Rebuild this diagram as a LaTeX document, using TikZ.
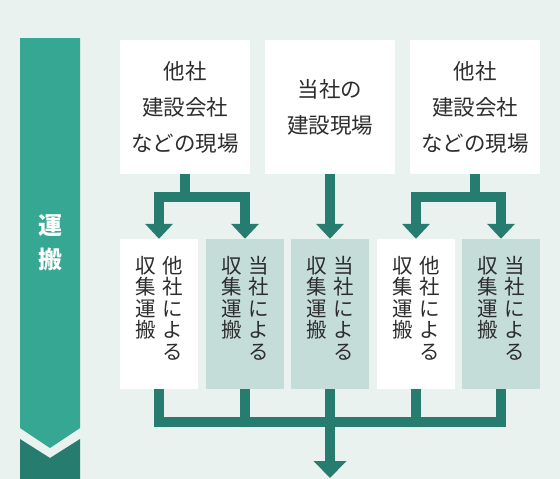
\documentclass[tikz,border=0pt]{standalone}
\usepackage{fontspec}
\newfontfamily\jpfont{Noto Sans CJK JP}
\usetikzlibrary{arrows.meta, positioning}
\definecolor{bgpale}{RGB}{234, 242, 240}
\definecolor{bandteal}{RGB}{54, 167, 146}
\definecolor{banddark}{RGB}{38, 124, 110}
\definecolor{flowline}{RGB}{38, 124, 110}
\definecolor{boxshade}{RGB}{197, 221, 217}
\definecolor{inktext}{RGB}{45, 45, 45}

\begin{document}
\begin{tikzpicture}[x=1pt, y=-1pt,
  site/.style={fill=white, minimum width=130pt, minimum height=134pt, inner sep=0pt,
               font=\jpfont\fontsize{21.5}{36}\selectfont, text=inktext, align=center},
  carrier/.style={minimum width=78pt, minimum height=150pt, inner sep=0pt},
  vcol/.style={anchor=north, inner sep=0pt, align=center,
               font=\jpfont\fontsize{20.5}{21.5}\selectfont, text=inktext},
  flow/.style={draw=flowline, line width=10pt},
  head/.style={-{Triangle[width=27pt, length=15pt]}},
]
  \useasboundingbox (0,0) rectangle (560,479);
  \fill[bgpale] (0,0) rectangle (560,479);

  % ── side band ──
  \fill[bandteal] (20,38) -- (80,38) -- (80,428) -- (50,448) -- (20,428) -- cycle;
  \fill[banddark] (20,439) -- (50,458) -- (80,439) -- (80,479) -- (20,479) -- cycle;
  \node[font=\jpfont\bfseries\fontsize{24}{34}\selectfont, text=white, align=center]
    (band) at (50,243) {運\\搬};

  % ── sites ──
  \node[site] (t1) at (185,107) {他社\\建設会社\\などの現場};
  \node[site] (t2) at (330,107) {当社の\\建設現場};
  \node[site] (t3) at (475,107) {他社\\建設会社\\などの現場};

  % ── carriers ──
  \node[carrier, fill=white]    (l1) at (159,314) {};
  \node[carrier, fill=boxshade] (l2) at (245,314) {};
  \node[carrier, fill=boxshade] (l3) at (330,314) {};
  \node[carrier, fill=white]    (l4) at (416,314) {};
  \node[carrier, fill=boxshade] (l5) at (501,314) {};
  \foreach \n/\who in {l1/他, l2/当, l3/当, l4/他, l5/当} {
    \node[vcol] (\n r) at ([xshift=14pt, yshift=-17pt]\n.north) {\who\\社\\に\\よ\\る};
    \node[vcol] (\n l) at ([xshift=-13pt, yshift=-17pt]\n.north) {収\\集\\運\\搬};
  }

  % ── flows in ──
  \draw[flow] (t1.south) -- ++(0,23) coordinate (fork1);
  \draw[flow, head] (fork1) -| (l1.north);
  \draw[flow, head] (fork1) -| (l2.north);
  \draw[flow, head] (t2.south) -- (l3.north);
  \draw[flow] (t3.south) -- ++(0,23) coordinate (fork3);
  \draw[flow, head] (fork3) -| (l4.north);
  \draw[flow, head] (fork3) -| (l5.north);

  % ── flows out ──
  \coordinate (merge) at (330,422);
  \coordinate (outlet) at (330,478);
  \foreach \n in {l1, l2, l4, l5}
    \draw[flow] (\n.south) |- (merge);
  \draw[flow] (l3.south) -- (merge);
  \draw[flow, -{Triangle[width=32pt, length=17pt]}] (merge) -- (outlet);
\end{tikzpicture}
\end{document}
